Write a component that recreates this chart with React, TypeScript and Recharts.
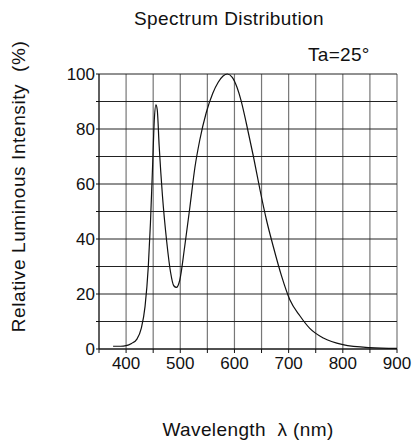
import { LineChart, Line, XAxis, YAxis, CartesianGrid } from "recharts";

const wavelengths = [
  376, 390, 400, 410, 420, 428, 435, 441, 445, 449, 452, 455, 457.5, 461, 467,
  475, 482, 488, 493, 499, 508, 518, 527, 536, 548, 560, 570, 579, 587, 596,
  605, 612, 622, 635, 647, 659, 672, 687, 702, 721, 739, 764, 800, 850, 900,
];
const intensity = [
  1.0, 1.0, 1.2, 2.0, 3.6, 7.5, 15.5, 30, 46, 67, 83, 88.8, 87, 74, 56, 39, 28,
  23, 22.4, 25, 37, 52, 66, 76, 86, 93, 97, 99.3, 100, 98.8, 95, 90.5, 82, 70,
  58, 47, 37, 26.5, 18, 12, 7.5, 4, 1.6, 0.5, 0.2,
];
const xTicks = [350, 400, 450, 500, 550, 600, 650, 700, 750, 800, 850, 900];
const yTicks = [0, 10, 20, 30, 40, 50, 60, 70, 80, 90, 100];

const data = wavelengths.map((wl, i) => ({ wl, v: intensity[i] }));

const font = "'Liberation Sans', Arial, sans-serif";

const text = {
  position: "absolute" as const,
  lineHeight: 1,
  whiteSpace: "pre" as const,
  color: "#111",
  fontFamily: font,
};

export default function App() {
  return (
    <div style={{ position: "absolute", left: 0, top: 0, width: 412, height: 441 }}>
      <LineChart
        width={412}
        height={441}
        data={data}
        margin={{ top: 74, right: 15, left: 0, bottom: 0 }}
      >
        <CartesianGrid horizontal={false} stroke="#777" strokeWidth={1.2} />
        <CartesianGrid vertical={false} stroke="#222" strokeWidth={1} />
        <XAxis
          dataKey="wl"
          type="number"
          domain={[350, 900]}
          ticks={xTicks}
          interval={0}
          height={92}
          tickSize={4}
          tickMargin={4}
          stroke="#111"
          tick={{ fill: "#111", fontSize: 17, fontFamily: font }}
          tickFormatter={(t: number) => (t % 100 === 0 ? String(t) : "")}
        />
        <YAxis
          type="number"
          domain={[0, 100]}
          ticks={yTicks}
          interval={0}
          width={99}
          tickSize={3}
          tickMargin={1}
          stroke="#111"
          tick={{ fill: "#111", fontSize: 17, fontFamily: font }}
          tickFormatter={(t: number) => (t % 20 === 0 ? String(t) : "")}
        />
        <Line
          dataKey="v"
          type="monotone"
          stroke="#111"
          strokeWidth={1.2}
          dot={false}
          isAnimationActive={false}
        />
      </LineChart>
      <div style={{ ...text, left: 79, width: 300, top: 9, textAlign: "center", fontSize: 19, letterSpacing: 0.4 }}>
        Spectrum Distribution
      </div>
      <div style={{ ...text, left: 308, top: 45, fontSize: 19, letterSpacing: 0.3 }}>Ta=25°</div>
      <div style={{ ...text, left: 98, width: 300, top: 420, textAlign: "center", fontSize: 19, letterSpacing: 0.4 }}>
        {"Wavelength  λ (nm)"}
      </div>
      <div
        style={{
          ...text,
          left: 18 - 160,
          width: 320,
          top: 186.5 - 9.5,
          textAlign: "center",
          fontSize: 19,
          letterSpacing: 0.6,
          transform: "rotate(-90deg)",
        }}
      >
        {"Relative Luminous Intensity  (%)"}
      </div>
    </div>
  );
}
